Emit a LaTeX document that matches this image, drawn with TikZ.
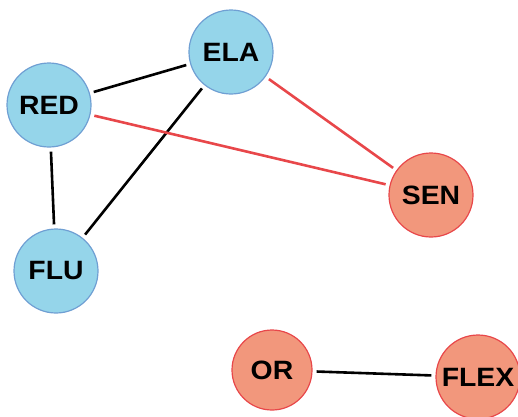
\documentclass[tikz,border=0pt]{standalone}
\usepackage{fontspec}
\setmainfont{Liberation Sans}[FakeStretch=1.07]
\usepackage{xcolor}
\definecolor{bluefill}{HTML}{95D5EA}
\definecolor{blueline}{HTML}{6F9FD3}
\definecolor{redfill}{HTML}{F2977C}
\definecolor{redline}{HTML}{E8474A}
\tikzset{
    factor/.style={circle,minimum size=84pt,inner sep=0pt,line width=1.2pt,
        font=\fontsize{26.5}{30}\selectfont\bfseries},
    bluef/.style={factor,fill=bluefill,draw=blueline},
    redf/.style={factor,fill=redfill,draw=redline},
    link/.style={line width=2.6pt,shorten <=4pt,shorten >=4pt},
}

\begin{document}
\begin{tikzpicture}[x=1pt,y=-1pt]
            \useasboundingbox (0,0) rectangle (518,416);
            \node[bluef] (ela) at (231,52) {ELA};
            \node[bluef] (red) at (49,105) {RED};
            \node[bluef] (flu) at (56,271) {FLU};
            \node[redf] (sen) at (431,195) {SEN};
            \node[redf,minimum size=80pt] (or) at (272,370) {OR};
            \node[redf] (flex) at (478,377) {FLEX};
            \draw[link] (red) -- (ela);
            \draw[link] (red) -- (flu);
            \draw[link] (flu) -- (ela);
            \draw[link,redline] (red) -- (sen);
            \draw[link,redline] (ela) -- (sen);
            \draw[link] (or) -- (flex);
        \end{tikzpicture}
\end{document}
